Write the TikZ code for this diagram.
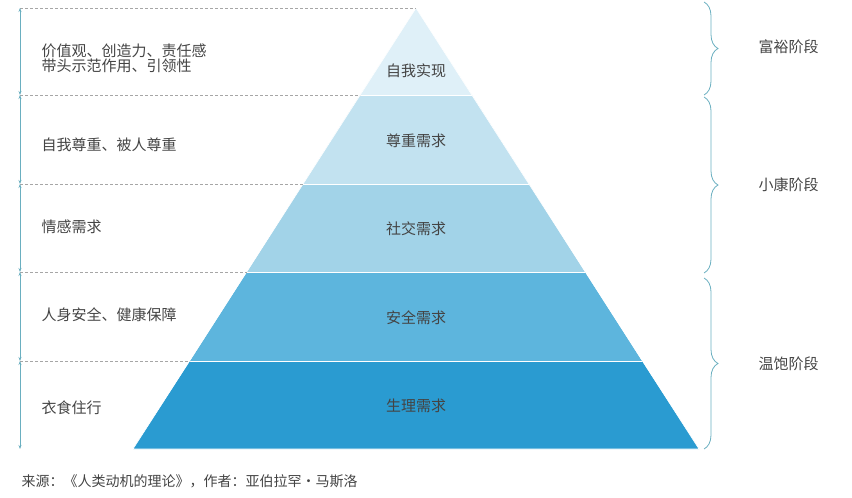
\documentclass[tikz,border=0pt]{standalone}
\usepackage{fontspec}
\newfontfamily\cjk{Noto Sans CJK SC}
\usetikzlibrary{decorations.pathreplacing,arrows.meta}
\definecolor{lineblue}{HTML}{6AAFC0}
\definecolor{txtgray}{HTML}{444444}
\definecolor{lvA}{HTML}{DFF0F8}
\definecolor{lvB}{HTML}{C2E2F0}
\definecolor{lvC}{HTML}{A2D3E8}
\definecolor{lvD}{HTML}{5DB5DD}
\definecolor{lvE}{HTML}{2A9BD1}
\tikzset{
  lvtext/.style={font=\cjk\fontsize{15}{18}\selectfont, text=txtgray},
  sidetext/.style={lvtext, anchor=west, align=left},
  guide/.style={densely dashed, gray!70, line width=0.6pt},
  span/.style={lineblue, line width=0.8pt, {Stealth[length=4pt,width=3pt]}-{Stealth[length=4pt,width=3pt]}},
  stagebrace/.style={lineblue, line width=0.8pt, decorate, decoration={brace, amplitude=14pt}}
}
\begin{document}
\begin{tikzpicture}[x=1pt,y=-1pt]
            \useasboundingbox (0,0) rectangle (852,498);
            % pyramid corners
            \coordinate (top) at (416,8);
            \coordinate (l1) at (360,95);  \coordinate (r1) at (472,95);
            \coordinate (l2) at (303,184); \coordinate (r2) at (529,184);
            \coordinate (l3) at (247,272); \coordinate (r3) at (585,272);
            \coordinate (l4) at (190,361); \coordinate (r4) at (642,361);
            \coordinate (l5) at (133,449); \coordinate (r5) at (699,449);
            \fill[lvA] (top) -- (r1) -- (l1) -- cycle;
            \fill[lvB] (l1) -- (r1) -- (r2) -- (l2) -- cycle;
            \fill[lvC] (l2) -- (r2) -- (r3) -- (l3) -- cycle;
            \fill[lvD] (l3) -- (r3) -- (r4) -- (l4) -- cycle;
            \fill[lvE] (l4) -- (r4) -- (r5) -- (l5) -- cycle;
            \draw[white, line width=0.6pt] (top) -- (l5) -- (r5) -- cycle;
            \foreach \i in {1,...,4} \draw[white, line width=0.6pt] (l\i) -- (r\i);
            % guides on the left
            \coordinate (g0) at (20,8);
            \coordinate (g1) at (20,95);
            \coordinate (g2) at (20,184);
            \coordinate (g3) at (20,272);
            \coordinate (g4) at (20,361);
            \coordinate (g5) at (20,449);
            \draw[guide] (g0) -- (top);
            \foreach \i in {1,...,4} \draw[guide] (g\i) -- (l\i);
            \foreach \i [evaluate=\i as \j using int(\i+1)] in {0,...,4} \draw[span] (g\i) -- (g\j);
            % level labels
            \node[lvtext] (n1) at (416,71) {自我实现};
            \node[lvtext] (n2) at (416,141) {尊重需求};
            \node[lvtext] (n3) at (416,229) {社交需求};
            \node[lvtext] (n4) at (416,318) {安全需求};
            \node[lvtext] (n5) at (416,406) {生理需求};
            \node[sidetext] (s1) at (38,58) {价值观、创造力、责任感\\[-3pt]带头示范作用、引领性};
            \node[sidetext] (s2) at (38,145) {自我尊重、被人尊重};
            \node[sidetext] (s3) at (38,227) {情感需求};
            \node[sidetext] (s4) at (38,315) {人身安全、健康保障};
            \node[sidetext] (s5) at (38,408) {衣食住行};
            % stages
            \coordinate (b0) at (704,2);
            \coordinate (b1) at (704,95);
            \coordinate (b2) at (704,97);
            \coordinate (b3) at (704,273);
            \coordinate (b4) at (704,278);
            \coordinate (b5) at (704,449);
            \draw[stagebrace] (b0) -- (b1);
            \draw[stagebrace] (b2) -- (b3);
            \draw[stagebrace] (b4) -- (b5);
            \node[sidetext] (t1) at (755,47) {富裕阶段};
            \node[sidetext] (t2) at (755,185) {小康阶段};
            \node[sidetext] (t3) at (755,364) {温饱阶段};
            \node[sidetext, font=\cjk\fontsize{14}{16}\selectfont] (src) at (18,481) {来源：《人类动机的理论》，作者：亚伯拉罕·马斯洛};
            \end{tikzpicture}
\end{document}
